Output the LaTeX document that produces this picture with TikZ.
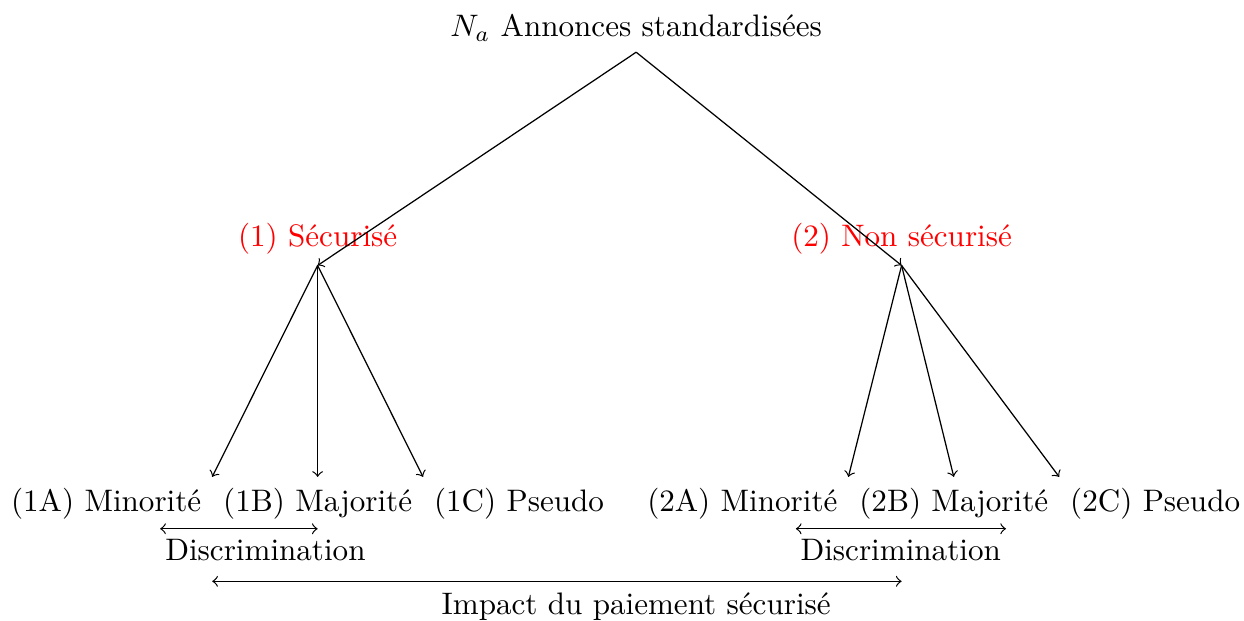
\documentclass[tikz,border=0pt]{standalone}
\usepackage{amsmath,amsfonts,amssymb}
\usepackage{tikz}
\usetikzlibrary{arrows,calc,positioning}

\begin{document}
\begin{tikzpicture}
		\useasboundingbox (0,0) rectangle (14.06,-7.01);
		\node[anchor=south] (N) at (7.19,-0.59) {$N_a$ Annonces standardisées};
		\node[anchor=south,red] (S1) at (3.59,-3.0) {(1) Sécurisé};
		\node[anchor=south,red] (S2) at (10.19,-3.0) {(2) Non sécurisé};
		\node[anchor=north] (B1) at (3.59,-5.39) {(1B) Majorité};
		\node[left=0 of B1] (A1) {(1A) Minorité};
		\node[right=0 of B1] (C1) {(1C) Pseudo};
		\node[anchor=north] (B2) at (10.78,-5.39) {(2B) Majorité};
		\node[left=0 of B2] (A2) {(2A) Minorité};
		\node[right=0 of B2] (C2) {(2C) Pseudo};
		\draw[->] (N.south) -- (S1.south);
		\draw[->] (N.south) -- (S2.south);
		\draw[->] (S1.south) -- (B1.north west);
		\draw[->] (S1.south) -- (B1.north);
		\draw[->] (S1.south) -- (B1.north east);
		\draw[->] (S2.south) -- (B2.north west);
		\draw[->] (S2.south) -- (B2.north);
		\draw[->] (S2.south) -- (B2.north east);
		% discrimination
		\coordinate (D1a) at (1.81,-5.976);
		\coordinate (D1b) at (3.59,-5.976);
		\coordinate (D2a) at (8.995,-5.976);
		\coordinate (D2b) at (11.37,-5.976);
		\draw[<->] (D1a) -- (D1b);
		\draw[<->] (D2a) -- (D2b);
		\node[anchor=north] (D1) at (3.0,-5.97) {Discrimination};
		\node[anchor=north] (D2) at (10.18,-5.97) {Discrimination};
		% impact
		\coordinate (Ia) at ($(B1.north west |- 0,-6.57)$);
		\coordinate (Ib) at ($(S2.south |- 0,-6.57)$);
		\draw[<->] (Ia) -- (Ib);
		\node[anchor=north] (I) at (7.19,-6.57) {Impact du paiement sécurisé};
	\end{tikzpicture}
\end{document}
